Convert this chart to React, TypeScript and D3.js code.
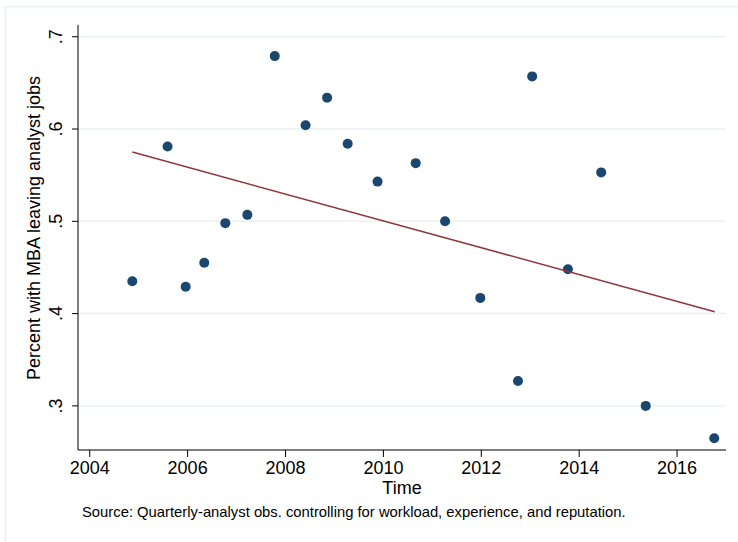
import React from 'react';
import * as d3 from 'd3';

// quarterly observations (year, share leaving)
const years = [2004.87, 2005.59, 2005.96, 2006.34, 2006.77, 2007.22, 2007.78, 2008.41, 2008.85, 2009.27,
  2009.88, 2010.66, 2011.26, 2011.98, 2012.75, 2013.04, 2013.77, 2014.45, 2015.36, 2016.76];
const shares = [0.435, 0.581, 0.429, 0.455, 0.498, 0.507, 0.679, 0.604, 0.634, 0.584,
  0.543, 0.563, 0.500, 0.417, 0.327, 0.657, 0.448, 0.553, 0.300, 0.265];

// fitted line end points
const fitYears = [2004.87, 2016.77];
const fitShares = [0.575, 0.402];

const xTicks = [2004, 2006, 2008, 2010, 2012, 2014, 2016];
const yTicks = [0.3, 0.4, 0.5, 0.6, 0.7];

const W = 738;
const H = 542;
const left = 78, right = 726, top = 25, bottom = 450;

const font = '"Liberation Sans", Arial, sans-serif';

export default function App() {
  const x = d3.scaleLinear().domain([2003.76, 2017.0]).range([left, right]);
  const y = d3.scaleLinear().domain([0.2522, 0.7127]).range([bottom, top]);
  const fmt = (v: number) => d3.format('.1f')(v).replace(/^0/, '');

  const fit = d3.line<number>()
    .x((d, i) => x(fitYears[i]))
    .y(d => y(d));

  return (
    <div style={{ position: 'absolute', left: 0, top: 0 }}>
      <svg width={W} height={H} style={{ display: 'block', fontFamily: font }}>
        <rect x={0} y={0} width={W} height={H} fill="#fff" />
        <rect x={5.5} y={6.5} width={W} height={H} fill="none" stroke="#e9eff1" strokeWidth={1.5} />

        {/* gridlines */}
        {yTicks.map(t => (
          <line key={'g' + t} x1={left} x2={right} y1={y(t)} y2={y(t)} stroke="#eaf1f3" strokeWidth={1.5} />
        ))}

        {/* y axis */}
        <line x1={left} x2={left} y1={top} y2={bottom} stroke="#000" strokeWidth={1} />
        {yTicks.map(t => (
          <g key={'y' + t}>
            <line x1={left - 6} x2={left} y1={y(t)} y2={y(t)} stroke="#000" />
            <text transform={`translate(62,${y(t)}) rotate(-90)`} textAnchor="middle" fontSize={18}>{fmt(t)}</text>
          </g>
        ))}
        <text transform="translate(39.5,228) rotate(-90)" textAnchor="middle" fontSize={18}>
          Percent with MBA leaving analyst jobs
        </text>

        {/* x axis */}
        <line x1={left} x2={right} y1={bottom} y2={bottom} stroke="#000" strokeWidth={1} />
        {xTicks.map(t => (
          <g key={'x' + t}>
            <line x1={x(t)} x2={x(t)} y1={bottom} y2={bottom + 7} stroke="#000" />
            <text x={x(t)} y={474} textAnchor="middle" fontSize={18}>{t}</text>
          </g>
        ))}
        <text x={(left + right) / 2} y={494} textAnchor="middle" fontSize={18}>Time</text>

        {/* points */}
        {years.map((yr, i) => (
          <circle key={'p' + i} cx={x(yr)} cy={y(shares[i])} r={5} fill="#1a476f" />
        ))}

        {/* linear fit */}
        <path d={fit(fitShares) || ''} fill="none" stroke="#90353b" strokeWidth={1.5} />

        <text x={82} y={517} fontSize={14.8}>
          Source: Quarterly-analyst obs. controlling for workload, experience, and reputation.
        </text>
      </svg>
    </div>
  );
}
